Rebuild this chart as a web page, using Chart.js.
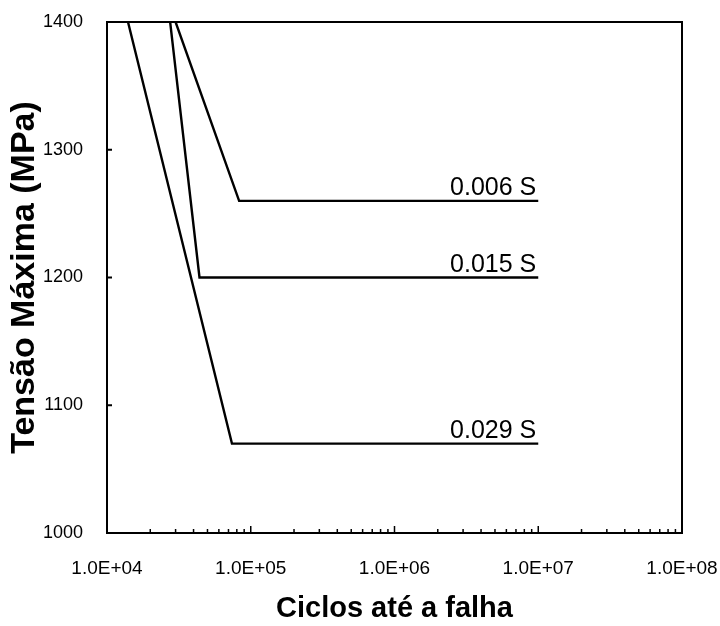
<!DOCTYPE html>
<html>
<head>
<meta charset="utf-8">
<script src="https://cdn.jsdelivr.net/npm/chart.js@4.4.0/dist/chart.umd.min.js"></script>
<style>
  html, body { margin: 0; padding: 0; background: #fff; }
  canvas { display: block; }
</style>
</head>
<body>
<canvas id="myChart" width="720" height="626"></canvas>
<script>
// values
const seriesNames = ['0.006 S', '0.015 S', '0.029 S'];
const cycles006 = [3.0e4, 8.3e4, 1e7];
const stress006 = [1400, 1260, 1260];
const cycles015 = [2.75e4, 4.4e4, 1e7];
const stress015 = [1400, 1200, 1200];
const cycles029 = [1.4e4, 7.4e4, 1e7];
const stress029 = [1400, 1070, 1070];
const xTicks = [1e4, 1e5, 1e6, 1e7, 1e8];
const yTicks = [1000, 1100, 1200, 1300, 1400];

function pts(xs, ys) {
  return xs.map((x, i) => ({ x: x, y: ys[i] }));
}

function sci(v) {
  const e = Math.round(Math.log10(v));
  const m = v / Math.pow(10, e);
  return m.toFixed(1) + 'E+' + String(e).padStart(2, '0');
}

function noPad(s) {
  s.paddingTop = 0;
  s.paddingBottom = 0;
  s.paddingLeft = 0;
  s.paddingRight = 0;
}

const frame = {
  id: 'frame',
  afterDatasetsDraw(chart) {
    const ctx = chart.ctx;
    const a = chart.chartArea;
    const xs = chart.scales.x;
    const ys = chart.scales.y;
    ctx.save();
    ctx.strokeStyle = '#000';
    ctx.lineWidth = 2;
    ctx.strokeRect(a.left, a.top, a.right - a.left, a.bottom - a.top);

    // inner ticks on y
    yTicks.forEach(v => {
      const py = ys.getPixelForValue(v);
      ctx.beginPath();
      ctx.moveTo(a.left, py);
      ctx.lineTo(a.left + 5, py);
      ctx.stroke();
    });
    // inner minor ticks on x (log)
    ctx.lineWidth = 1.5;
    for (let d = 1e4; d < 1e8; d *= 10) {
      for (let k = 2; k <= 10; k++) {
        const px = xs.getPixelForValue(d * k);
        ctx.beginPath();
        ctx.moveTo(px, a.bottom);
        ctx.lineTo(px, a.bottom - (k === 10 ? 7 : 4));
        ctx.stroke();
      }
    }

    // curve labels
    ctx.fillStyle = '#000';
    ctx.font = '25px "Liberation Sans", Arial, sans-serif';
    ctx.textAlign = 'right';
    ctx.textBaseline = 'alphabetic';
    chart.data.datasets.forEach((ds, i) => {
      const last = ds.data[ds.data.length - 1];
      const px = xs.getPixelForValue(last.x);
      const py = ys.getPixelForValue(last.y);
      ctx.fillText(seriesNames[i], px - 2, py - 6);
    });
    ctx.restore();
  }
};

const ctx = document.getElementById('myChart').getContext('2d');
const myChart = new Chart(ctx, {
  type: 'line',
  data: {
    datasets: [
      { label: seriesNames[0], data: pts(cycles006, stress006) },
      { label: seriesNames[1], data: pts(cycles015, stress015) },
      { label: seriesNames[2], data: pts(cycles029, stress029) }
    ].map(d => Object.assign(d, {
      borderColor: '#000',
      borderWidth: 2.4,
      pointRadius: 0,
      tension: 0,
      fill: false
    }))
  },
  options: {
    responsive: false,
    animation: false,
    devicePixelRatio: 1,
    layout: { padding: { left: 0, right: 38, top: 22, bottom: 0 } },
    plugins: {
      legend: { display: false },
      tooltip: { enabled: false }
    },
    scales: {
      x: {
        type: 'logarithmic',
        min: 1e4,
        max: 1e8,
        afterBuildTicks: s => { s.ticks = xTicks.map(v => ({ value: v })); },
        afterFit: s => { s.height = 93; noPad(s); },
        grid: { display: false, drawTicks: false },
        border: { display: false },
        ticks: {
          autoSkip: false,
          maxRotation: 0,
          padding: 24,
          color: '#000',
          font: { family: '"Liberation Sans", Arial, sans-serif', size: 19 },
          callback: v => sci(v)
        },
        title: {
          display: true,
          text: 'Ciclos até a falha',
          color: '#000',
          padding: { top: 0, bottom: 0 },
          font: { family: '"Liberation Sans", Arial, sans-serif', size: 29, weight: 'bold' }
        }
      },
      y: {
        min: 1000,
        max: 1400,
        afterBuildTicks: s => { s.ticks = yTicks.map(v => ({ value: v })); },
        afterFit: s => { s.width = 107; noPad(s); },
        grid: { display: false, drawTicks: false },
        border: { display: false },
        ticks: {
          padding: 24,
          color: '#000',
          font: { family: '"Liberation Sans", Arial, sans-serif', size: 18 },
          callback: v => String(v)
        },
        title: {
          display: true,
          text: 'Tensão Máxima (MPa)',
          color: '#000',
          padding: { top: 4, bottom: 0 },
          font: { family: '"Liberation Sans", Arial, sans-serif', size: 34, weight: 'bold' }
        }
      }
    }
  },
  plugins: [frame]
});
</script>
</body>
</html>
